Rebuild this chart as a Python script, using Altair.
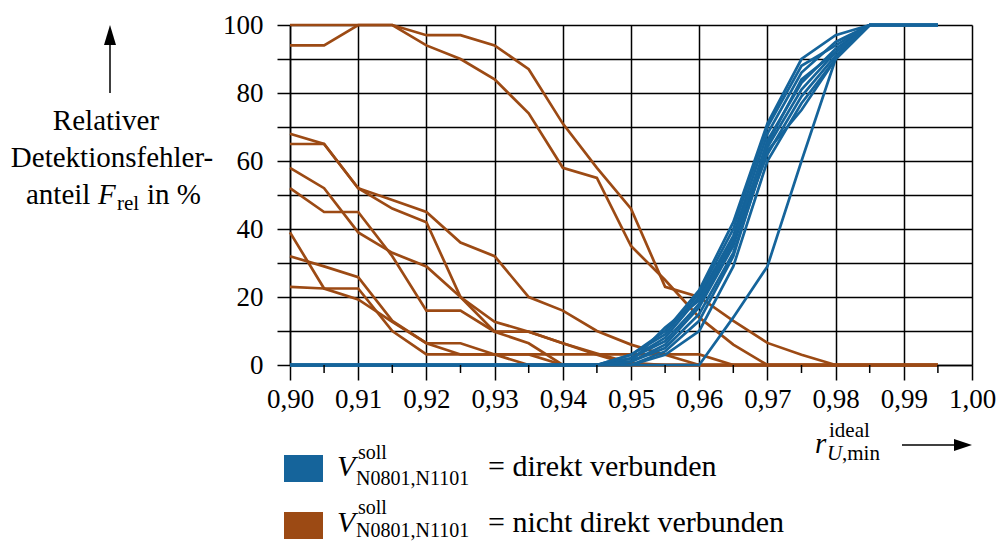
import altair as alt
import pandas as pd

FONT = "'Liberation Serif', 'Times New Roman', serif"
BLUE = "#15649b"
BROWN = "#9c4a14"

X_VALUES = [0.900, 0.905, 0.910, 0.915, 0.920, 0.925, 0.930, 0.935, 0.940, 0.945,
            0.950, 0.955, 0.960, 0.965, 0.970, 0.975, 0.980, 0.985, 0.990, 0.995]
X_TICKS = [0.90, 0.91, 0.92, 0.93, 0.94, 0.95, 0.96, 0.97, 0.98, 0.99, 1.00]
X_MINOR = [0.905, 0.915, 0.925, 0.935, 0.945, 0.955, 0.965, 0.975, 0.985, 0.995]
Y_TICKS = [0, 10, 20, 30, 40, 50, 60, 70, 80, 90, 100]

# "nicht direkt verbunden" (brown)
N1 = [100, 100, 100, 100, 97, 97, 94, 87, 71, 58, 46, 23, 20, 13, 6.5, 3, 0, 0, 0, 0]
N2 = [94, 94, 100, 100, 94, 90, 84, 74, 58, 55, 35, 25, 14, 6, 0, 0, 0, 0, 0, 0]
N3 = [68, 65, 52, 48.5, 45, 36, 32, 20, 16, 10, 6, 3, 0, 0, 0, 0, 0, 0, 0, 0]
N4 = [65, 65, 52, 46, 42, 20, 12.7, 9.8, 6.4, 3, 0, 0, 0, 0, 0, 0, 0, 0, 0, 0]
N5 = [58, 52, 39, 33, 29, 20, 9.8, 9.8, 6.4, 3.4, 0.6, 0, 0, 0, 0, 0, 0, 0, 0, 0]
N6 = [52, 45, 45, 32, 16, 16, 9.8, 6.4, 0, 0, 0, 0, 0, 0, 0, 0, 0, 0, 0, 0]
N7 = [39, 22.5, 19.3, 12.7, 6.4, 6.4, 3.1, 3.1, 3.1, 3.1, 3.1, 3.1, 3.1, 0, 0, 0, 0, 0, 0, 0]
N8 = [32, 29, 25.8, 13, 6.4, 3.1, 3.1, 0, 0, 0, 0, 0, 0, 0, 0, 0, 0, 0, 0, 0]
N9 = [23, 22.5, 22.5, 10, 3.1, 3.1, 3.1, 3.1, 0, 0, 0, 0, 0, 0, 0, 0, 0, 0, 0, 0]

# "direkt verbunden" (blue)
D1 = [0, 0, 0, 0, 0, 0, 0, 0, 0, 0, 0, 0, 0, 14, 29, 60, 90, 100, 100, 100]
D2 = [0, 0, 0, 0, 0, 0, 0, 0, 0, 0, 3, 10, 22, 42, 71, 90, 97, 100, 100, 100]
D3 = [0, 0, 0, 0, 0, 0, 0, 0, 0, 0, 2, 8, 20, 38, 68, 86, 95, 100, 100, 100]
D4 = [0, 0, 0, 0, 0, 0, 0, 0, 0, 0, 1, 6, 17, 35, 66, 83, 93, 100, 100, 100]
D5 = [0, 0, 0, 0, 0, 0, 0, 0, 0, 0, 0, 4, 13, 32, 64, 81, 92, 100, 100, 100]
D6 = [0, 0, 0, 0, 0, 0, 0, 0, 0, 0, 2, 7, 18, 36, 62, 79, 91, 100, 100, 100]
D7 = [0, 0, 0, 0, 0, 0, 0, 0, 0, 0, 0, 3, 10, 29, 60, 77, 90, 100, 100, 100]
D8 = [0, 0, 0, 0, 0, 0, 0, 0, 0, 0, 3, 9, 21, 40, 70, 88, 94, 100, 100, 100]
D9 = [0, 0, 0, 0, 0, 0, 0, 0, 0, 0, 1, 5, 15, 33, 63, 75, 90, 100, 100, 100]
D10 = [0, 0, 0, 0, 0, 0, 0, 0, 0, 0, 1, 11, 19, 37, 65, 84, 92, 100, 100, 100]

BROWN_SERIES = {"N1": N1, "N2": N2, "N3": N3, "N4": N4, "N5": N5,
                "N6": N6, "N7": N7, "N8": N8, "N9": N9}
BLUE_SERIES = {"D1": D1, "D2": D2, "D3": D3, "D4": D4, "D5": D5,
               "D6": D6, "D7": D7, "D8": D8, "D9": D9, "D10": D10}


def long_df(series):
    rows = []
    for name, vals in series.items():
        for xv, yv in zip(X_VALUES, vals):
            rows.append({"series": name, "x": xv, "y": yv})
    return pd.DataFrame(rows)


df_brown = long_df(BROWN_SERIES)
df_blue = long_df(BLUE_SERIES)

OX, OY = 290, 25  # plot origin in page pixels
W, H = 682, 340

x_axis = alt.Axis(values=X_TICKS, title=None, grid=True, gridColor="black", gridWidth=1.5,
                  tickSize=15, tickColor="black", tickWidth=1.5, domainColor="black",
                  domainWidth=1.5, labelFont=FONT, labelFontSize=27, labelColor="black",
                  labelPadding=6, labelFlush=False,
                  labelExpr="replace(format(datum.value, '.2f'), '.', ',')")
y_axis = alt.Axis(values=Y_TICKS, title=None, grid=True, gridColor="black", gridWidth=1.5,
                  tickSize=13, tickColor="black", tickWidth=1.5, domainColor="black",
                  domainWidth=1.5, labelFont=FONT, labelFontSize=27, labelColor="black",
                  labelPadding=14, labelFlush=False,
                  labelExpr="datum.value % 20 == 0 ? datum.value : ''")
x_scale = alt.Scale(domain=[0.90, 1.00], nice=False, zero=False)
y_scale = alt.Scale(domain=[0, 100], nice=False)

X = alt.X("x:Q", scale=x_scale, axis=x_axis)
Y = alt.Y("y:Q", scale=y_scale, axis=y_axis)

brown = alt.Chart(df_brown).mark_line(color=BROWN, strokeWidth=2.7).encode(
    x=X, y=Y, detail="series:N")
blue = alt.Chart(df_blue).mark_line(color=BLUE, strokeWidth=2.7).encode(
    x=X, y=Y, detail="series:N")

minor = alt.Chart(pd.DataFrame({"x": X_MINOR})).mark_rule(
    color="black", strokeWidth=1.5).encode(
    x=X, y=alt.value(H), y2=alt.value(H + 8))

one = pd.DataFrame({"a": [1]})


def txt(s, px, py, size=29, style="normal", align="left"):
    return alt.Chart(one).mark_text(
        text=s, font=FONT, fontSize=size, fontStyle=style, align=align,
        baseline="alphabetic", color="black").encode(
        x=alt.value(px - OX), y=alt.value(py - OY))


def rect(x1, x2, y1, y2, color):
    return alt.Chart(one).mark_rect(color=color).encode(
        x=alt.value(x1 - OX), x2=alt.value(x2 - OX),
        y=alt.value(y1 - OY), y2=alt.value(y2 - OY))


def rule(x1, x2, y1, y2):
    return alt.Chart(one).mark_rule(color="black", strokeWidth=1.5).encode(
        x=alt.value(x1 - OX), x2=alt.value(x2 - OX),
        y=alt.value(y1 - OY), y2=alt.value(y2 - OY))


def head(px, py, shape, size):
    return alt.Chart(one).mark_point(
        shape=shape, filled=True, color="black", size=size, opacity=1, strokeWidth=0).encode(
        x=alt.value(px - OX), y=alt.value(py - OY))


annotations = [
    # y-axis title with arrow
    rule(110, 110, 43, 93),
    head(110, 35, "M0,-1L0.6,1L-0.6,1Z", 400),
    txt("Relativer", 106, 130, align="center"),
    txt("Detektionsfehler-", 112, 167, align="center"),
    txt("anteil", 26, 204),
    txt("F", 98, 204, style="italic"),
    txt("rel", 117, 210, size=21),
    txt("in %", 147, 204),
    # x-axis title with arrow
    txt("r", 815, 453, style="italic"),
    txt("ideal", 829, 437, size=21),
    txt("U", 827, 460, size=21, style="italic"),
    txt(",min", 842, 460, size=21),
    rule(902, 958, 445, 445),
    head(963, 445, "M1,0L-1,-0.667L-1,0.667Z", 324),
    # legend
    rect(284, 323, 455, 482, BLUE),
    txt("V", 337, 476, size=30, style="italic"),
    txt("soll", 358, 459, size=20),
    txt("N0801,N1101", 356, 485, size=20),
    txt("= direkt verbunden", 488, 476, size=30),
    rect(284, 323, 512, 539, BROWN),
    txt("V", 337, 532, size=30, style="italic"),
    txt("soll", 358, 514, size=20),
    txt("N0801,N1101", 356, 537, size=20),
    txt("= nicht direkt verbunden", 488, 532, size=30),
]

chart = alt.layer(brown, blue, minor, *annotations).properties(
    width=W, height=H,
    autosize=alt.AutoSizeParams(type="none"),
    padding={"left": OX, "top": OY, "right": 997 - OX - W, "bottom": 541 - OY - H},
    background="white",
).configure_view(stroke=None)

chart.save("out.html", embed_options={"renderer": "svg", "actions": False})
